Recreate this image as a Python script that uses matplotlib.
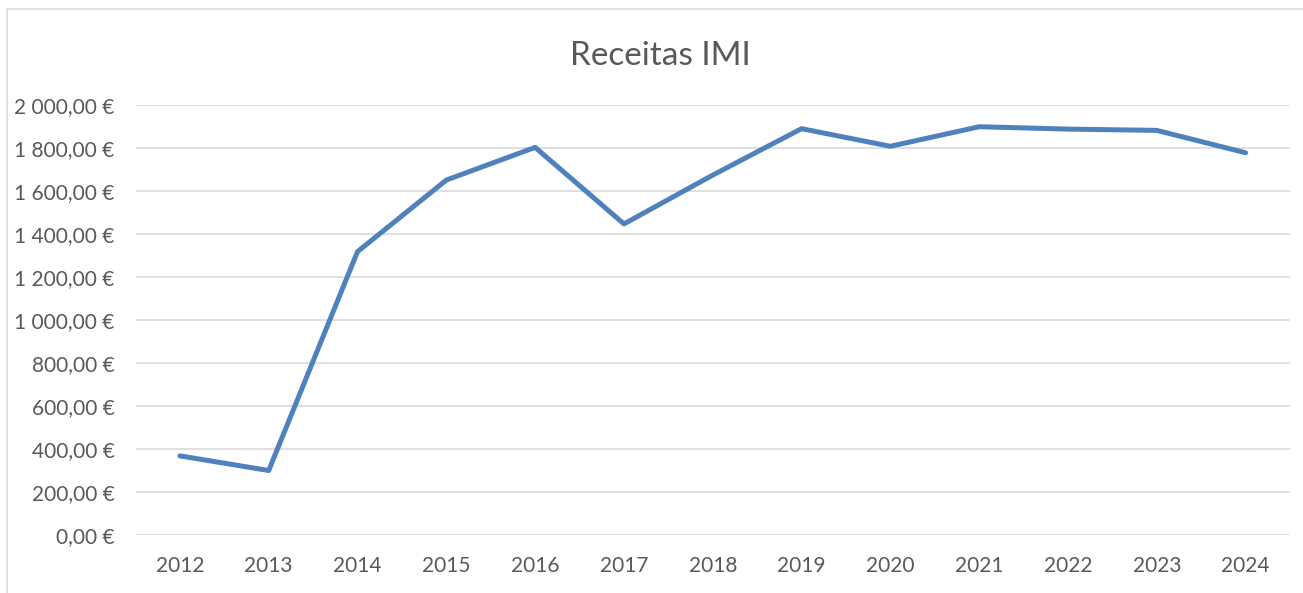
import matplotlib
matplotlib.use("Agg")
import matplotlib.pyplot as plt
from matplotlib.ticker import FuncFormatter, MultipleLocator
from matplotlib.patches import Rectangle

anos = ["2012", "2013", "2014", "2015", "2016", "2017", "2018",
        "2019", "2020", "2021", "2022", "2023", "2024"]
receitas = [368, 300, 1318, 1651, 1803, 1447, 1674,
            1890, 1808, 1899, 1888, 1882, 1778]

plt.rcParams['font.family'] = ['Lato', 'DejaVu Sans']

def euros(v, pos):
    s = f"{v:,.2f}".replace(",", " ").replace(".", ",")
    return s + " €"

fig = plt.figure(figsize=(13.03, 5.93), dpi=100)
ax = fig.add_axes([0.104, 0.0978, 0.886, 0.7251])

x = range(len(anos))
ax.plot(x, receitas, color="#4F81BD", linewidth=3.6,
        solid_capstyle="round", solid_joinstyle="round", zorder=3)

ax.set_xlim(-0.5, len(anos) - 0.5)
ax.set_ylim(0, 2000)
ax.set_xticks(list(x))
ax.set_xticklabels(anos)
ax.yaxis.set_major_locator(MultipleLocator(200))
ax.yaxis.set_major_formatter(FuncFormatter(euros))
ax.grid(axis="y", color="#D9D9D9", linewidth=1.2)
ax.set_axisbelow(True)
for sp in ax.spines.values():
    sp.set_visible(False)
ax.tick_params(length=0, labelsize=15, labelcolor="#595959")
ax.tick_params(axis="x", pad=15)
ax.tick_params(axis="y", pad=15)

fig.text(0.507, 0.905, "Receitas IMI", ha="center", va="center",
         fontsize=24, color="#595959")

# chart area border
fig.patches.append(Rectangle((7 / 1303, -0.1), 1.2, 1 - 9 / 593 + 0.1,
                             transform=fig.transFigure, fill=False,
                             edgecolor="#D9D9D9", linewidth=1.2))

fig.savefig("out.png", dpi=100, facecolor="white")
